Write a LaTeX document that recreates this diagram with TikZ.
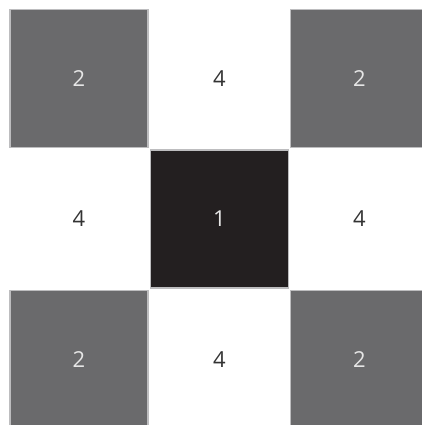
\documentclass[tikz,border=0pt]{standalone}
\usepackage{fontspec}
\setmainfont{Open Sans}
\definecolor{cellgray}{HTML}{6A6A6C}
\definecolor{cellblack}{HTML}{231F20}
\definecolor{edgegray}{HTML}{BDBDBF}
\definecolor{txtdark}{HTML}{333333}
\definecolor{txtlight}{HTML}{E6E6E6}
\begin{document}
\begin{tikzpicture}[x=1pt,y=-1pt,
  cell/.style={rectangle,inner sep=0pt,minimum width=138pt,minimum height=138pt,font=\fontsize{22}{22}\selectfont},
  graycell/.style={cell,fill=cellgray,draw=edgegray,line width=1.2pt,text=txtlight},
  blackcell/.style={cell,fill=cellblack,draw=edgegray,line width=1.2pt,text=txtlight},
  whitecell/.style={cell,text=txtdark}]
\useasboundingbox (0,0) rectangle (422,425);
\begin{scope}
\clip (0,0) rectangle (422,425);
\node[graycell] (c00) at (79,78.5) {2};
\node[whitecell] (c01) at (219.5,78.5) {4};
\node[graycell] (c02) at (359.5,78.5) {2};
\node[whitecell] (c10) at (79,219) {4};
\node[blackcell] (c11) at (219.5,219) {1};
\node[whitecell] (c12) at (359.5,219) {4};
\node[graycell] (c20) at (79,359.5) {2};
\node[whitecell] (c21) at (219.5,359.5) {4};
\node[graycell] (c22) at (359.5,359.5) {2};
\end{scope}
\end{tikzpicture}
\end{document}
